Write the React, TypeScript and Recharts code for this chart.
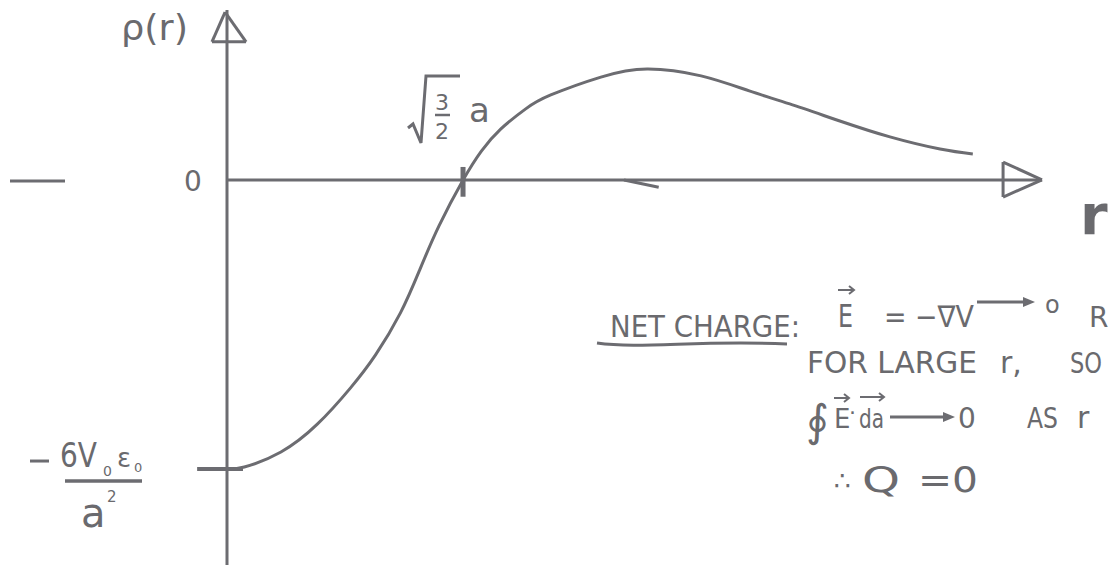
import { LineChart, Line, XAxis, YAxis, ReferenceLine } from "recharts"

// radius in units of a, charge density in units of 6 V0 eps0 / a^2
const rValues = [0, 0.09, 0.28, 0.47, 0.64, 0.77, 0.9, 1.0, 1.1, 1.225, 1.32, 1.42, 1.55, 1.68, 1.94, 2.18, 2.46, 2.71, 2.92, 3.18, 3.44, 3.7, 3.87]
const rhoValues = [-1.0, -0.993, -0.941, -0.844, -0.72, -0.606, -0.46, -0.311, -0.159, 0, 0.1, 0.176, 0.246, 0.294, 0.356, 0.384, 0.36, 0.308, 0.263, 0.204, 0.149, 0.107, 0.09]
const yTicks = [-1, 0]
const zeroCrossing = Math.sqrt(3 / 2)

const INK = "#6c6c71"
const TEXT = "#6a6a6e"
const FONT = "DejaVu Sans, sans-serif"

const data = rValues.map((r, i) => ({ r, rho: rhoValues[i] }))

function RhoTick(props: any) {
  const { x, y, payload } = props
  if (payload.value === 0) {
    return (
      <g>
        <line x1={x - 217} x2={x - 162} y1={y + 1} y2={y + 1} stroke={INK} strokeWidth={3} />
        <text x={x - 34} y={y + 11} fontSize={28} fill={TEXT} fontFamily={FONT} textAnchor="middle">0</text>
      </g>
    )
  }
  // -6 V0 eps0 / a^2
  return (
    <g fill={TEXT} fontFamily={FONT}>
      <line x1={x - 197} x2={x - 178} y1={y - 8} y2={y - 8} stroke={INK} strokeWidth={3} />
      <text x={x - 167} y={y - 2} fontSize={33} textLength={37} lengthAdjust="spacingAndGlyphs">6V</text>
      <text x={x - 124} y={y + 7} fontSize={14}>0</text>
      <text x={x - 110} y={y - 2} fontSize={26}>ε</text>
      <text x={x - 93} y={y + 3} fontSize={13}>0</text>
      <line x1={x - 162} x2={x - 85} y1={y + 12} y2={y + 12} stroke={INK} strokeWidth={3.5} />
      <text x={x - 146} y={y + 58} fontSize={40}>a</text>
      <text x={x - 120} y={y + 33} fontSize={15}>2</text>
    </g>
  )
}

function Arrow({ x1, x2, y, head = 8 }: { x1: number; x2: number; y: number; head?: number }) {
  return (
    <g>
      <line x1={x1} x2={x2 - head} y1={y} y2={y} stroke={INK} strokeWidth={3} />
      <path d={`M${x2 - head - 2},${y - head / 2} L${x2},${y} L${x2 - head - 2},${y + head / 2} Z`} fill={INK} />
    </g>
  )
}

function Vec({ x1, x2, y }: { x1: number; x2: number; y: number }) {
  return (
    <path d={`M${x1},${y} L${x2},${y} M${x2 - 5},${y - 4} L${x2},${y} L${x2 - 5},${y + 4}`} stroke={INK} strokeWidth={2} fill="none" />
  )
}

function Notes() {
  return (
    <svg width={1110} height={565} style={{ position: "absolute", left: 0, top: 0, pointerEvents: "none" }}>
      <g fill={TEXT} fontFamily={FONT}>
        <text x={121} y={40} fontSize={36} textLength={67} lengthAdjust="spacingAndGlyphs">ρ(r)</text>
        <text x={1080} y={234} fontSize={56} fontWeight={600}>r</text>

        <path d="M408,128 L413,124 L421,143 L426,76 L460,76" stroke={INK} strokeWidth={3} fill="none" />
        <text x={442} y={110} fontSize={22} textAnchor="middle">3</text>
        <line x1={435} x2={450} y1={115} y2={115} stroke={INK} strokeWidth={2.5} />
        <text x={442} y={139} fontSize={22} textAnchor="middle">2</text>
        <text x={469} y={122} fontSize={34}>a</text>

        <text x={610} y={337} fontSize={30} textLength={190} lengthAdjust="spacingAndGlyphs">NET CHARGE:</text>
        <path d="M597,343 C640,349 700,340 787,344" stroke={INK} strokeWidth={3} fill="none" />
        <text x={838} y={327} fontSize={32} textLength={15} lengthAdjust="spacingAndGlyphs">E</text>
        <Vec x1={838} x2={854} y={290} />
        <text x={884} y={327} fontSize={30} textLength={90} lengthAdjust="spacingAndGlyphs">= −∇V</text>
        <Arrow x1={977} x2={1035} y={302} head={10} />
        <text x={1045} y={313} fontSize={24}>o</text>
        <text x={1089} y={327} fontSize={28}>R</text>

        <text x={807} y={373} fontSize={30} textLength={170} lengthAdjust="spacingAndGlyphs">FOR LARGE</text>
        <text x={1000} y={373} fontSize={30}>r,</text>
        <text x={1070} y={373} fontSize={28} textLength={32} lengthAdjust="spacingAndGlyphs">SO</text>

        <text x={806} y={436} fontSize={44}>∮</text>
        <text x={834} y={428} fontSize={26}>E</text>
        <Vec x1={834} x2={849} y={398} />
        <text x={849} y={420} fontSize={22}>·</text>
        <text x={859} y={428} fontSize={26} textLength={25} lengthAdjust="spacingAndGlyphs">da</text>
        <Vec x1={860} x2={884} y={397} />
        <Arrow x1={890} x2={955} y={417} head={10} />
        <text x={958} y={428} fontSize={28}>0</text>
        <text x={1027} y={428} fontSize={28} textLength={31} lengthAdjust="spacingAndGlyphs">AS</text>
        <text x={1077} y={428} fontSize={30}>r</text>

        <text x={834} y={490} fontSize={26}>∴</text>
        <text x={862} y={492} fontSize={36} textLength={38} lengthAdjust="spacingAndGlyphs">Q</text>
        <text x={918} y={492} fontSize={36} textLength={60} lengthAdjust="spacingAndGlyphs">=0</text>
      </g>
    </svg>
  )
}

export default function App() {
  return (
    <div style={{ position: "absolute", left: 0, top: 0, width: 1110, height: 565, background: "#fff" }}>
      <LineChart width={1110} height={565} data={data} margin={{ top: 10, right: 68, bottom: 0, left: 0 }}>
        <XAxis dataKey="r" type="number" domain={[0, 4.229]} hide allowDataOverflow />
        <YAxis
          type="number"
          domain={[-1.332, 0.588]}
          ticks={yTicks}
          interval={0}
          width={227}
          allowDataOverflow
          axisLine={{ stroke: INK, strokeWidth: 3 }}
          tickLine={false}
          tickSize={0}
          tickMargin={0}
          tick={(p: any) => <RhoTick {...p} />}
        />
        <ReferenceLine y={0} stroke={INK} strokeWidth={3} />
        {/* arrow heads */}
        <ReferenceLine segment={[{ x: 4.027, y: 0.062 }, { x: 4.027, y: -0.059 }]} stroke={INK} strokeWidth={3} ifOverflow="visible" />
        <ReferenceLine segment={[{ x: 4.027, y: 0.062 }, { x: 4.229, y: 0 }]} stroke={INK} strokeWidth={3} ifOverflow="visible" />
        <ReferenceLine segment={[{ x: 4.027, y: -0.059 }, { x: 4.229, y: 0 }]} stroke={INK} strokeWidth={3} ifOverflow="visible" />
        <ReferenceLine segment={[{ x: -0.078, y: 0.478 }, { x: 0.099, y: 0.478 }]} stroke={INK} strokeWidth={3} ifOverflow="visible" />
        <ReferenceLine segment={[{ x: -0.078, y: 0.478 }, { x: -0.01, y: 0.581 }]} stroke={INK} strokeWidth={3} ifOverflow="visible" />
        <ReferenceLine segment={[{ x: 0.099, y: 0.478 }, { x: -0.01, y: 0.581 }]} stroke={INK} strokeWidth={3} ifOverflow="visible" />
        {/* tick marks */}
        <ReferenceLine segment={[{ x: -0.155, y: -1 }, { x: 0.083, y: -1 }]} stroke={INK} strokeWidth={4} ifOverflow="visible" />
        <ReferenceLine segment={[{ x: zeroCrossing, y: 0.045 }, { x: zeroCrossing, y: -0.058 }]} stroke={INK} strokeWidth={5} ifOverflow="visible" />
        <ReferenceLine segment={[{ x: 2.06, y: 0 }, { x: 2.24, y: -0.025 }]} stroke={INK} strokeWidth={3} ifOverflow="visible" />
        <Line dataKey="rho" type="natural" stroke={INK} strokeWidth={3} dot={false} isAnimationActive={false} />
      </LineChart>
      <Notes />
    </div>
  )
}
